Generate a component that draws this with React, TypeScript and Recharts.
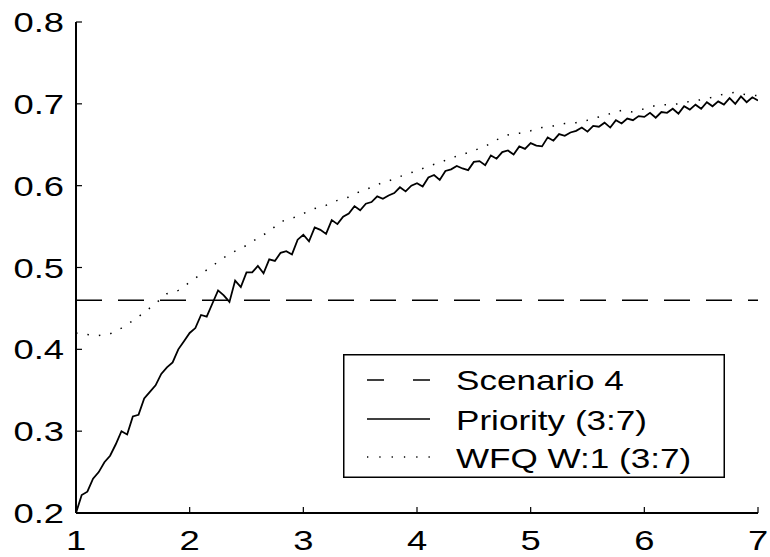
import { LineChart, Line, XAxis, YAxis, Legend } from 'recharts'

const xTicks = [1, 2, 3, 4, 5, 6, 7]
const yTicks = [0.2, 0.3, 0.4, 0.5, 0.6, 0.7, 0.8]

const seriesNames = ['Scenario 4', 'Priority (3:7)', 'WFQ W:1 (3:7)']

// Scenario 4: flat reference level
const scenarioX = [1, 7]
const scenarioY = [0.46, 0.46]

// Priority (3:7): noisy curve, read every 0.05
const priorityX = [
  1.0, 1.05, 1.1, 1.15, 1.2, 1.25, 1.3, 1.35, 1.4, 1.45, 1.5, 1.55, 1.6, 1.65, 1.7, 1.75, 1.8, 1.85, 1.9, 1.95,
  2.0, 2.05, 2.1, 2.15, 2.2, 2.25, 2.3, 2.35, 2.4, 2.45, 2.5, 2.55, 2.6, 2.65, 2.7, 2.75, 2.8, 2.85, 2.9, 2.95,
  3.0, 3.05, 3.1, 3.15, 3.2, 3.25, 3.3, 3.35, 3.4, 3.45, 3.5, 3.55, 3.6, 3.65, 3.7, 3.75, 3.8, 3.85, 3.9, 3.95,
  4.0, 4.05, 4.1, 4.15, 4.2, 4.25, 4.3, 4.35, 4.4, 4.45, 4.5, 4.55, 4.6, 4.65, 4.7, 4.75, 4.8, 4.85, 4.9, 4.95,
  5.0, 5.05, 5.1, 5.15, 5.2, 5.25, 5.3, 5.35, 5.4, 5.45, 5.5, 5.55, 5.6, 5.65, 5.7, 5.75, 5.8, 5.85, 5.9, 5.95,
  6.0, 6.05, 6.1, 6.15, 6.2, 6.25, 6.3, 6.35, 6.4, 6.45, 6.5, 6.55, 6.6, 6.65, 6.7, 6.75, 6.8, 6.85, 6.9, 6.95,
  7.0,
]
const priorityY = [
  0.2, 0.222, 0.226, 0.242, 0.25, 0.262, 0.27, 0.284, 0.3, 0.296, 0.318, 0.32, 0.34, 0.348, 0.356, 0.37, 0.378, 0.384, 0.4, 0.41,
  0.42, 0.426, 0.442, 0.44, 0.456, 0.472, 0.466, 0.458, 0.484, 0.476, 0.494, 0.494, 0.502, 0.493, 0.51, 0.508, 0.518, 0.52, 0.516, 0.534,
  0.54, 0.532, 0.549, 0.546, 0.541, 0.558, 0.553, 0.562, 0.566, 0.575, 0.57, 0.578, 0.58, 0.587, 0.584, 0.588, 0.591, 0.598, 0.593, 0.6,
  0.603, 0.599, 0.61, 0.613, 0.607, 0.618, 0.62, 0.624, 0.621, 0.619, 0.629, 0.63, 0.625, 0.637, 0.633, 0.641, 0.643, 0.638, 0.648, 0.645,
  0.652, 0.649, 0.648, 0.659, 0.655, 0.663, 0.661, 0.665, 0.667, 0.671, 0.666, 0.673, 0.672, 0.677, 0.671, 0.68, 0.676, 0.682, 0.68, 0.685,
  0.684, 0.689, 0.683, 0.69, 0.689, 0.694, 0.688, 0.697, 0.693, 0.699, 0.694, 0.702, 0.697, 0.703, 0.699, 0.707, 0.7, 0.709, 0.702, 0.708,
  0.704,
]

// WFQ W:1 (3:7): dotted curve, read every 0.1
const wfqX = [
  1.0, 1.1, 1.2, 1.3, 1.4, 1.5, 1.6, 1.7, 1.8, 1.9, 2.0, 2.1, 2.2, 2.3, 2.4, 2.5, 2.6, 2.7, 2.8, 2.9,
  3.0, 3.1, 3.2, 3.3, 3.4, 3.5, 3.6, 3.7, 3.8, 3.9, 4.0, 4.1, 4.2, 4.3, 4.4, 4.5, 4.6, 4.7, 4.8, 4.9,
  5.0, 5.1, 5.2, 5.3, 5.4, 5.5, 5.6, 5.7, 5.8, 5.9, 6.0, 6.1, 6.2, 6.3, 6.4, 6.5, 6.6, 6.7, 6.8, 6.9, 7.0,
]
const wfqY = [
  0.42, 0.418, 0.417, 0.419, 0.426, 0.435, 0.445, 0.456, 0.468, 0.472, 0.482, 0.492, 0.502, 0.512, 0.52, 0.527, 0.536, 0.544, 0.556, 0.56,
  0.566, 0.572, 0.576, 0.582, 0.586, 0.593, 0.598, 0.604, 0.608, 0.614, 0.618, 0.624, 0.628, 0.634, 0.638, 0.643, 0.648, 0.656, 0.662, 0.664,
  0.667, 0.671, 0.673, 0.676, 0.677, 0.68, 0.684, 0.688, 0.692, 0.69, 0.694, 0.698, 0.699, 0.7, 0.703, 0.705, 0.708, 0.712, 0.714, 0.711, 0.71,
]

const toPoints = (xs: number[], ys: number[]) => xs.map((x, i) => ({ x, y: ys[i] }))

const scenarioData = toPoints(scenarioX, scenarioY)
const priorityData = toPoints(priorityX, priorityY)
const wfqData = toPoints(wfqX, wfqY)

const FONT = '"Liberation Sans", Arial, Helvetica, sans-serif'
const STRETCH = 1.3

function YTick({ x, y, payload }: any) {
  return (
    <text
      transform={`translate(${x},${y}) scale(${STRETCH},1)`}
      textAnchor="end"
      dy={10}
      fontSize={28}
      fontFamily={FONT}
      fill="#000"
    >
      {payload.value.toFixed(1)}
    </text>
  )
}

function XTick({ x, y, payload }: any) {
  return (
    <text
      transform={`translate(${x},${y + 31}) scale(${STRETCH},1)`}
      textAnchor="middle"
      fontSize={28}
      fontFamily={FONT}
      fill="#000"
    >
      {payload.value}
    </text>
  )
}

const NoTick = () => <g />

function LegendBox() {
  const samples = [
    { dash: '17 29', lineY: 26 },
    { dash: undefined, lineY: 65 },
    { dash: '1.3 11', lineY: 103 },
  ]
  const baselines = [36, 76, 114]
  return (
    <svg width={382} height={124} style={{ display: 'block' }}>
      <rect x={0.75} y={0.75} width={380.5} height={122.5} fill="#fff" stroke="#000" strokeWidth={1.5} />
      {samples.map((s, i) => (
        <g key={seriesNames[i]}>
          <line x1={24} x2={87} y1={s.lineY} y2={s.lineY} stroke="#000" strokeWidth={1.3} strokeDasharray={s.dash} />
          <text
            transform={`translate(113,${baselines[i]}) scale(${STRETCH},1)`}
            fontSize={27}
            fontFamily={FONT}
            fill="#000"
          >
            {seriesNames[i]}
          </text>
        </g>
      ))}
    </svg>
  )
}

export default function App() {
  return (
    <div style={{ position: 'absolute', left: 0, top: 0, background: '#fff' }}>
      <LineChart width={770} height={557} margin={{ top: 22, right: 12, bottom: 0, left: 0 }}>
        <XAxis
          xAxisId="b"
          dataKey="x"
          type="number"
          domain={[1, 7]}
          ticks={xTicks}
          allowDataOverflow
          height={44}
          tickSize={-6}
          tickMargin={12}
          tick={<XTick />}
          axisLine={{ stroke: '#000', strokeWidth: 2 }}
          tickLine={{ stroke: '#000', strokeWidth: 1.2 }}
        />
        <XAxis
          xAxisId="t"
          orientation="top"
          dataKey="x"
          type="number"
          domain={[1, 7]}
          ticks={xTicks}
          allowDataOverflow
          height={0}
          tickSize={-6}
          tick={<NoTick />}
          axisLine={{ stroke: '#000', strokeWidth: 1.5 }}
          tickLine={{ stroke: '#000', strokeWidth: 1.2 }}
        />
        <YAxis
          yAxisId="l"
          type="number"
          domain={[0.2, 0.8]}
          ticks={yTicks}
          allowDataOverflow
          width={76}
          tickSize={-6}
          tickMargin={18}
          tick={<YTick />}
          axisLine={{ stroke: '#000', strokeWidth: 2 }}
          tickLine={{ stroke: '#000', strokeWidth: 1.2 }}
        />
        <YAxis
          yAxisId="r"
          orientation="right"
          type="number"
          domain={[0.2, 0.8]}
          ticks={yTicks}
          allowDataOverflow
          width={0}
          tickSize={-6}
          tick={<NoTick />}
          axisLine={{ stroke: '#000', strokeWidth: 1.5 }}
          tickLine={{ stroke: '#000', strokeWidth: 1.2 }}
        />
        <Line
          xAxisId="b"
          yAxisId="l"
          data={scenarioData}
          dataKey="y"
          name={seriesNames[0]}
          stroke="#000"
          strokeWidth={1.3}
          strokeDasharray="26 16"
          dot={false}
          type="linear"
          isAnimationActive={false}
        />
        <Line
          xAxisId="b"
          yAxisId="l"
          data={priorityData}
          dataKey="y"
          name={seriesNames[1]}
          stroke="#000"
          strokeWidth={1.8}
          dot={false}
          type="linear"
          isAnimationActive={false}
        />
        <Line
          xAxisId="b"
          yAxisId="l"
          data={wfqData}
          dataKey="y"
          name={seriesNames[2]}
          stroke="#000"
          strokeWidth={1.5}
          strokeDasharray="1.5 10"
          dot={false}
          type="linear"
          isAnimationActive={false}
        />
        <Legend
          layout="horizontal"
          verticalAlign="middle"
          align="center"
          content={<LegendBox />}
          wrapperStyle={{ position: 'absolute', left: 343, top: 354, width: 382, height: 124 }}
        />
      </LineChart>
    </div>
  )
}
